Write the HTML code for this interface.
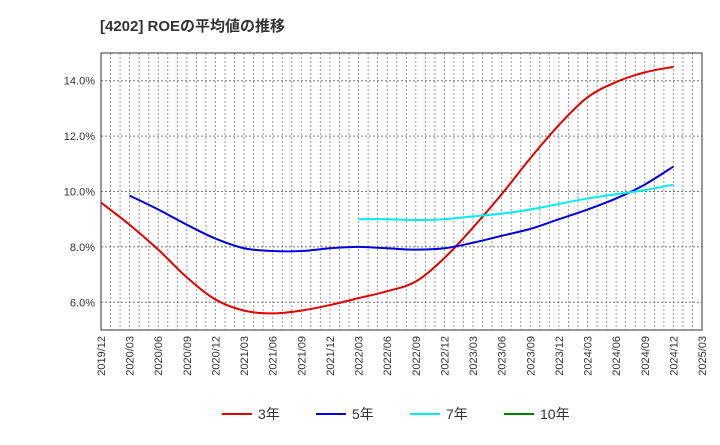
<!DOCTYPE html>
<html><head><meta charset="utf-8"><style>
body{margin:0;background:#fff;font-family:"Liberation Sans","Noto Sans CJK JP",sans-serif;}
</style></head><body>
<svg id="c" width="720" height="440" xmlns="http://www.w3.org/2000/svg">
<text x="100" y="31" font-size="15" font-weight="bold" fill="#333">[4202]  ROEの平均値の推移</text>
<g id="grid"></g><g id="series"></g><g id="axes"></g>
<g id="legend"></g>
</svg>
<script>
const xLabels=["2019/12","2020/03","2020/06","2020/09","2020/12","2021/03","2021/06","2021/09","2021/12","2022/03","2022/06","2022/09","2022/12","2023/03","2023/06","2023/09","2023/12","2024/03","2024/06","2024/09","2024/12","2025/03"];
const yTicks=[6,8,10,12,14];
const s3=[9.6,8.8,7.9,6.9,6.1,5.7,5.6,5.7,5.9,6.15,6.4,6.75,7.6,8.7,9.9,11.2,12.4,13.4,13.95,14.3,14.5];
const s5=[null,9.85,9.35,8.8,8.3,7.95,7.85,7.85,7.95,8.0,7.95,7.9,7.95,8.15,8.4,8.65,9.0,9.35,9.75,10.25,10.9];
const s7=[null,null,null,null,null,null,null,null,null,9.0,9.0,8.97,9.0,9.1,9.2,9.35,9.55,9.75,9.9,10.05,10.25];
const L=101,R=702,T=53,B=330,yMin=5,yMax=15;
const xs=i=>L+i*(R-L)/(xLabels.length-1);
const ys=v=>B-(v-yMin)/(yMax-yMin)*(B-T);
const NS="http://www.w3.org/2000/svg";
function mk(t,a,p){const e=document.createElementNS(NS,t);for(const k in a)e.setAttribute(k,a[k]);p.appendChild(e);return e;}
const g=document.getElementById('grid');
for(let m=1;m<(xLabels.length-1)*3;m++){const x=L+m*(R-L)/((xLabels.length-1)*3);
 const l=mk('line',{x1:x,x2:x,y1:T,y2:B,stroke:'#999','stroke-dasharray':'2,2','stroke-width':1},g);
 }
const ax=document.getElementById('axes');
yTicks.forEach(v=>{const y=ys(v);
 const l=mk('line',{x1:L,x2:R,y1:y,y2:y,stroke:'#777','stroke-dasharray':'2,2'},g);
 
 const t=mk('text',{x:L-6,y:y+4,'text-anchor':'end','font-size':11,fill:'#333'},ax);t.textContent=v.toFixed(1)+'%';
 });
const fr=mk('rect',{x:L,y:T,width:R-L,height:B-T,fill:'none',stroke:'#333'},ax);

xLabels.forEach((s,i)=>{const x=xs(i);
 const t=mk('text',{x:x+4,y:B+6,'text-anchor':'end','font-size':11,fill:'#333',transform:`rotate(-90 ${x+4} ${B+6})`},ax);t.textContent=s;
 });
function path(arr){const p=[];arr.forEach((v,i)=>{if(v!=null)p.push([xs(i),ys(v)]);});
 let d=`M${p[0][0]},${p[0][1]}`;
 for(let i=0;i<p.length-1;i++){const p0=p[i-1]||p[i],p1=p[i],p2=p[i+1],p3=p[i+2]||p2;
  d+=` C${p1[0]+(p2[0]-p0[0])/6},${p1[1]+(p2[1]-p0[1])/6} ${p2[0]-(p3[0]-p1[0])/6},${p2[1]-(p3[1]-p1[1])/6} ${p2[0]},${p2[1]}`;}
 return d;}
const sg=document.getElementById('series');
[[s3,'#e00000','series-3yr'],[s5,'#0000dd','series-5yr'],[s7,'#00eeee','series-7yr']].forEach(([a,c,n])=>{
 const e=mk('path',{d:path(a),fill:'none',stroke:c,'stroke-width':2},sg);
 });
const lg=document.getElementById('legend');
[['3年','#e00000',222],['5年','#0000dd',316],['7年','#00eeee',410],['10年','#008000',504]].forEach(([t,c,x])=>{
 const l=mk('line',{x1:x,x2:x+30,y1:414,y2:414,stroke:c,'stroke-width':2},lg);
 
 const tx=mk('text',{x:x+36,y:419,'font-size':14,fill:'#333'},lg);tx.textContent=t;
 });
</script>
</body></html>
